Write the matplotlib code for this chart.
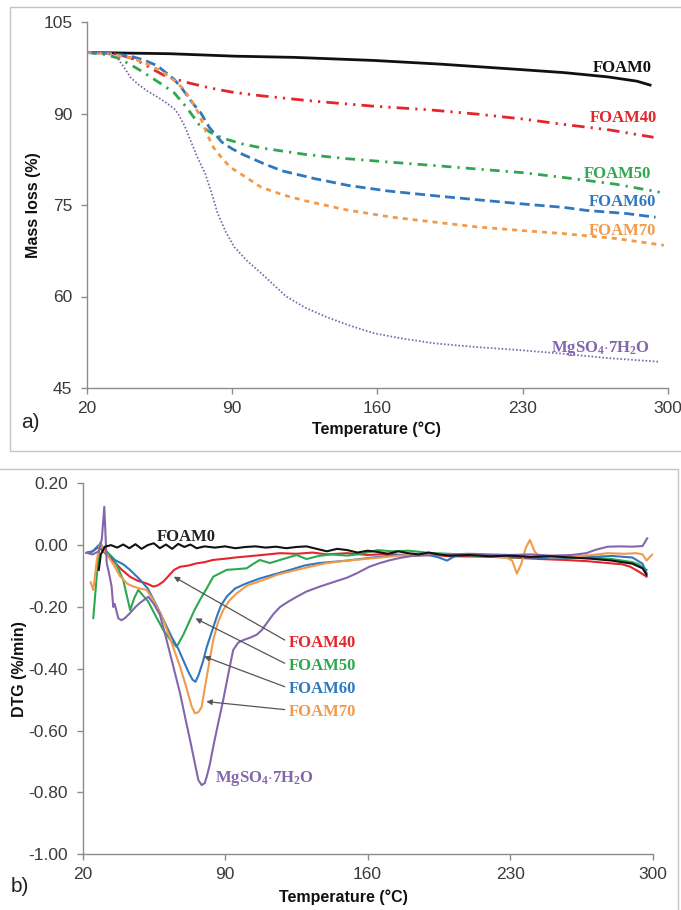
import matplotlib
matplotlib.use('Agg')
import matplotlib.pyplot as plt
from matplotlib.patches import Rectangle

plt.rcParams['font.family'] = ['Liberation Sans', 'DejaVu Sans']
plt.rcParams['axes.unicode_minus'] = False
plt.rcParams['mathtext.fontset'] = 'custom'
plt.rcParams['mathtext.rm'] = 'Liberation Serif'
plt.rcParams['mathtext.bf'] = 'Liberation Serif:bold'

# ---- a) TGA mass loss ----
foam0_T = [20, 40, 60, 91, 120, 158, 190, 229, 250, 271, 285, 292]
foam0_m = [100.0, 99.9, 99.8, 99.4, 99.2, 98.7, 98.1, 97.2, 96.7, 96.0, 95.3, 94.6]

foam40_T = [20, 30, 35, 42, 47, 52, 58, 68, 79, 90, 104, 130, 158, 185, 208, 230, 250, 272, 293]
foam40_m = [100, 99.9, 99.7, 99.0, 98.2, 97.2, 96.1, 95.1, 94.2, 93.5, 92.9, 92.0, 91.2, 90.6, 89.9, 89.1, 88.2, 87.3, 86.1]

foam50_T = [20, 28, 35, 41, 46, 51, 56, 62, 68, 74, 79, 83, 88, 95, 105, 125, 145, 167, 190, 208, 230, 250, 275, 296]
foam50_m = [100, 99.7, 99.1, 98.0, 97.0, 95.9, 94.8, 93.4, 91.0, 88.2, 87.0, 86.3, 85.7, 85.0, 84.3, 83.3, 82.6, 82.0, 81.4, 80.9, 80.3, 79.5, 78.4, 77.1]

foam60_T = [20, 30, 41, 48, 54, 62, 66, 70, 75, 79, 85, 90, 95, 105, 114, 130, 146, 165, 188, 210, 229, 250, 261, 280, 294]
foam60_m = [100, 99.9, 99.4, 98.7, 97.8, 95.6, 94.0, 92.1, 90.0, 87.7, 85.3, 84.2, 83.3, 81.8, 80.6, 79.3, 78.2, 77.3, 76.5, 75.8, 75.2, 74.6, 74.1, 73.6, 73.0]

foam70_T = [20, 30, 41, 48, 56, 61, 66, 70, 74, 78, 81, 85, 89, 95, 104, 115, 125, 145, 167, 190, 208, 230, 250, 275, 298]
foam70_m = [100, 99.8, 99.1, 98.3, 96.9, 95.7, 94.2, 92.3, 89.9, 86.5, 84.4, 82.7, 81.2, 79.9, 77.9, 76.6, 75.7, 74.2, 73.0, 72.1, 71.4, 70.8, 70.3, 69.5, 68.4]

mg_T = [20, 25, 30, 33, 35, 38, 41, 45, 49, 54, 58, 62, 64, 67, 70, 73, 77, 80, 83, 87, 91, 97,
        104, 110, 116, 125, 135, 146, 158, 172, 188, 208, 229, 250, 271, 296]
mg_m = [100, 100, 99.9, 99.4, 98.9, 97.5, 95.9, 94.7, 93.7, 92.7, 91.8, 90.8, 89.9, 88.0, 85.5, 83.0, 80.1, 77.0, 73.6, 70.5, 68.1, 65.9,
        63.8, 61.9, 60.0, 58.2, 56.7, 55.3, 54.0, 53.1, 52.3, 51.7, 51.2, 50.6, 49.9, 49.3]

# ---- b) DTG ----
d0_T = [28, 29, 31, 34, 37, 40, 43, 46, 49, 52, 55, 58, 61, 64, 67, 70, 73, 76, 80, 85, 90, 95, 100, 105, 110, 115, 120, 125,
        130, 135, 140, 145, 150, 155, 160, 165, 170, 175, 180, 185, 190, 195, 200, 210, 220, 230, 240, 250, 260, 270, 280, 290, 295, 297]
d0_v = [-0.08, -0.03, -0.005, 0.0, -0.008, 0.002, -0.01, 0.003, -0.012, 0.0, 0.006, -0.01, 0.002, -0.012, 0.004, -0.006, 0.002, -0.01,
        -0.004, -0.008, -0.004, -0.01, -0.006, -0.004, -0.008, -0.005, -0.01, -0.006, -0.004, -0.012, -0.02, -0.012, -0.016, -0.024,
        -0.018, -0.022, -0.028, -0.02, -0.026, -0.03, -0.024, -0.03, -0.034, -0.032, -0.036, -0.034, -0.038, -0.036, -0.04, -0.044,
        -0.05, -0.06, -0.075, -0.096]

d40_T = [22, 25, 28, 31, 35, 39, 43.3, 47, 51.5, 54.8, 57, 59.7, 61.5, 63, 65, 67.9, 72, 76, 80, 84, 90, 95, 100, 108, 117, 125,
         133, 140, 150, 160, 170, 180, 190, 200, 214, 230, 245, 257, 268, 278, 285, 289, 293, 297]
d40_v = [-0.025, -0.02, -0.005, -0.025, -0.05, -0.078, -0.102, -0.115, -0.124, -0.134, -0.13, -0.118, -0.105, -0.094, -0.08, -0.07,
         -0.066, -0.059, -0.055, -0.048, -0.044, -0.04, -0.037, -0.032, -0.026, -0.028, -0.024, -0.03, -0.026, -0.032, -0.028,
         -0.034, -0.03, -0.036, -0.037, -0.04, -0.045, -0.048, -0.052, -0.058, -0.062, -0.07, -0.085, -0.102]

d50_T = [25.3, 27, 28.6, 31, 35.1, 37.5, 40, 43.4, 45.5, 47.4, 50, 52.3, 56, 59.7, 63, 66.2, 69.5, 72.8, 75, 77.7, 81, 84.2, 90.8,
         95, 100.6, 104, 107.1, 112, 117, 121, 125.2, 130, 136, 142, 150, 157, 165, 172, 180, 190, 200, 214, 230, 245, 257, 270, 280,
         290, 293, 297]
d50_v = [-0.236, -0.1, 0.007, -0.015, -0.042, -0.075, -0.113, -0.21, -0.17, -0.145, -0.165, -0.183, -0.23, -0.275, -0.305, -0.329,
         -0.29, -0.242, -0.21, -0.177, -0.14, -0.102, -0.08, -0.078, -0.075, -0.06, -0.048, -0.058, -0.048, -0.04, -0.032, -0.045,
         -0.035, -0.03, -0.034, -0.028, -0.016, -0.02, -0.018, -0.025, -0.028, -0.035, -0.04, -0.038, -0.042, -0.04, -0.045, -0.055,
         -0.062, -0.08]

d60_T = [22, 25, 28, 31, 35, 40, 43.3, 48, 52, 56, 60, 64, 67, 70, 72, 74, 75.5, 77, 79, 81, 84, 86, 88, 91, 95, 100, 107, 115,
         122, 129, 136, 143, 150, 160, 171, 180, 190, 195, 199, 203, 210, 220, 230, 240, 250, 260, 270, 280, 290, 295, 297]
d60_v = [-0.025, -0.02, 0.0, -0.025, -0.045, -0.062, -0.08, -0.11, -0.14, -0.19, -0.245, -0.3, -0.335, -0.38, -0.41, -0.435, -0.442,
         -0.42, -0.38, -0.33, -0.27, -0.23, -0.195, -0.165, -0.14, -0.125, -0.108, -0.093, -0.08, -0.066, -0.058, -0.054, -0.05,
         -0.042, -0.034, -0.03, -0.032, -0.04, -0.05, -0.035, -0.03, -0.034, -0.038, -0.04, -0.042, -0.04, -0.038, -0.035, -0.04,
         -0.06, -0.09]

d70_T = [24, 25.3, 27, 28.6, 31, 35, 38.4, 42, 45, 48, 51.5, 55, 59.7, 64, 67.9, 71, 73.5, 75.2, 77, 78.5, 81, 84.2, 86.5, 89.1,
         92, 95.7, 101, 108.8, 116, 125.2, 133, 140, 150, 160, 171, 180, 190, 200, 210, 220, 228, 231, 233.3, 235.5, 237.6, 239.7,
         242, 244, 250, 260, 270, 278, 286, 292, 295, 297, 299, 300]
d70_v = [-0.12, -0.145, -0.05, 0.005, -0.02, -0.06, -0.1, -0.125, -0.134, -0.14, -0.145, -0.18, -0.242, -0.32, -0.393, -0.46, -0.52,
         -0.544, -0.54, -0.523, -0.426, -0.307, -0.25, -0.21, -0.18, -0.156, -0.13, -0.113, -0.095, -0.08, -0.068, -0.058, -0.05,
         -0.044, -0.037, -0.032, -0.03, -0.03, -0.032, -0.034, -0.04, -0.05, -0.092, -0.06, -0.01, 0.017, -0.02, -0.035, -0.04,
         -0.038, -0.032, -0.026, -0.028, -0.026, -0.03, -0.05, -0.035, -0.03]

dmg_T = [22, 25, 28, 29.5, 30.7, 31.9, 33, 34.3, 35.1, 35.8, 37.6, 39.2, 41, 43.3, 46, 48.2, 50, 52.3, 55, 58, 61.3, 64.5, 67.9,
         70.5, 72.8, 75, 76.9, 78.5, 80, 81, 82.5, 84.2, 86.5, 89.1, 91.5, 94, 96.5, 99, 102, 105.5, 108, 110.4, 113.5, 117, 121,
         125.2, 130, 136.6, 143, 150, 155, 160.8, 166, 171.4, 177, 182, 190, 200, 210, 220, 230, 240, 250, 260, 267.4, 272, 278,
         284, 290, 295, 297.3]
dmg_v = [-0.025, -0.03, -0.02, 0.02, 0.124, -0.058, -0.09, -0.134, -0.2, -0.19, -0.237, -0.243, -0.235, -0.22, -0.2, -0.187,
         -0.178, -0.167, -0.19, -0.225, -0.307, -0.39, -0.479, -0.56, -0.63, -0.7, -0.76, -0.776, -0.77, -0.749, -0.71, -0.652,
         -0.58, -0.501, -0.42, -0.339, -0.315, -0.307, -0.3, -0.29, -0.275, -0.253, -0.225, -0.2, -0.183, -0.167, -0.15, -0.134,
         -0.12, -0.105, -0.09, -0.07, -0.058, -0.048, -0.04, -0.035, -0.033, -0.03, -0.028, -0.03, -0.032, -0.03, -0.034, -0.032,
         -0.026, -0.015, -0.005, -0.004, -0.005, -0.003, 0.022]

x_ticks = [20, 90, 160, 230, 300]
mass_ticks = [45, 60, 75, 90, 105]
dtg_ticks = [0.20, 0.00, -0.20, -0.40, -0.60, -0.80, -1.00]

# arrow labels in panel b: (text, tip T, tip DTG, label DTG)
arrow_labels = [('FOAM40', 64.8, -0.102, -0.315),
                ('FOAM50', 75.5, -0.237, -0.390),
                ('FOAM60', 79.7, -0.360, -0.466),
                ('FOAM70', 80.8, -0.506, -0.540)]

BLACK = '#111111'
RED = '#e3262b'
GREEN = '#2ea84f'
BLUE = '#2f78c0'
ORANGE = '#f29a4c'
PURPLE = '#8466ad'
SPINE = '#8c8c8c'
TICKC = '#3a3a3a'
MG_LABEL = r'$\mathbf{MgSO_4{\cdot}7H_2O}$'


def style_axes(ax):
    for s in ['top', 'right']:
        ax.spines[s].set_visible(False)
    for s in ['left', 'bottom']:
        ax.spines[s].set_color(SPINE)
        ax.spines[s].set_linewidth(1.0)
    ax.tick_params(direction='out', length=4.5, width=1.0, color=SPINE,
                   labelsize=12.5, labelcolor=TICKC)
    ax.tick_params(axis='y', pad=6)
    ax.tick_params(axis='x', pad=5)
    ax.set_xlim(20, 300)
    ax.set_xticks(x_ticks)


fig = plt.figure(figsize=(6.81, 9.10), dpi=100)

# panel frames
fig.add_artist(Rectangle((10 / 681, 1 - 451 / 910), 1.0, 444 / 910, transform=fig.transFigure,
                         fill=False, edgecolor='#c4c4c4', lw=1.0))
fig.add_artist(Rectangle((-0.01, -0.05), 678 / 681 + 0.01, 1 - 469 / 910 + 0.05, transform=fig.transFigure,
                         fill=False, edgecolor='#c4c4c4', lw=1.0))

# ---------- panel a ----------
ax1 = fig.add_axes([87 / 681, 1 - 388 / 910, 581 / 681, 366 / 910])
style_axes(ax1)
ax1.set_ylim(45, 105)
ax1.set_yticks(mass_ticks)

ax1.plot(foam0_T, foam0_m, color=BLACK, lw=2.0, solid_capstyle='butt')
ax1.plot(foam40_T, foam40_m, color=RED, lw=2.0, dashes=(4.5, 2.2, 0.8, 2.2, 0.8, 2.2))
ax1.plot(foam50_T, foam50_m, color=GREEN, lw=2.0, dashes=(3.5, 2.2, 0.8, 2.2))
ax1.plot(foam60_T, foam60_m, color=BLUE, lw=2.0, dashes=(3.6, 1.8))
ax1.plot(foam70_T, foam70_m, color=ORANGE, lw=2.0, dashes=(1.8, 1.8))
ax1.plot(mg_T, mg_m, color=PURPLE, lw=1.3, dashes=(0.9, 1.1))

serif = ['Liberation Serif', 'DejaVu Serif']
ax1.text(292, 97.5, 'FOAM0', color=BLACK, family=serif, weight='bold', fontsize=12, ha='right', va='center')
ax1.text(294.5, 89.3, 'FOAM40', color=RED, family=serif, weight='bold', fontsize=12, ha='right', va='center')
ax1.text(292, 80.1, 'FOAM50', color=GREEN, family=serif, weight='bold', fontsize=12, ha='right', va='center')
ax1.text(294.5, 75.5, 'FOAM60', color=BLUE, family=serif, weight='bold', fontsize=12, ha='right', va='center')
ax1.text(294.5, 70.8, 'FOAM70', color=ORANGE, family=serif, weight='bold', fontsize=12, ha='right', va='center')
ax1.text(291.5, 51.5, MG_LABEL, color=PURPLE, fontsize=12, ha='right', va='center')

ax1.set_ylabel('Mass loss (%)', fontsize=11.5, weight='bold', color='#111111')
ax1.yaxis.set_label_coords(-0.079, 0.5)
ax1.set_xlabel('Temperature (°C)', fontsize=11.5, weight='bold', color='#111111')
ax1.xaxis.set_label_coords(0.499, -0.091)
fig.text(30 / 681, 1 - 423 / 910, 'a)', fontsize=15, ha='center', va='center', color='#222222')

# ---------- panel b ----------
ax2 = fig.add_axes([82.5 / 681, 1 - 854.3 / 910, 570.2 / 681, 371 / 910])
style_axes(ax2)
ax2.set_ylim(-1.0, 0.2)
ax2.set_yticks(dtg_ticks)
ax2.set_yticklabels(['%.2f' % v for v in dtg_ticks])

lw_b = 1.5
ax2.plot(d40_T, d40_v, color=RED, lw=lw_b)
ax2.plot(d50_T, d50_v, color=GREEN, lw=lw_b)
ax2.plot(d60_T, d60_v, color=BLUE, lw=lw_b)
ax2.plot(d70_T, d70_v, color=ORANGE, lw=lw_b)
ax2.plot(dmg_T, dmg_v, color=PURPLE, lw=lw_b)
ax2.plot(d0_T, d0_v, color=BLACK, lw=lw_b)

ax2.text(56.3, 0.025, 'FOAM0', color='#222222', family=serif, weight='bold', fontsize=12, ha='left', va='center')
label_colors = [RED, GREEN, BLUE, ORANGE]
for (name, tx, ty, ly), c in zip(arrow_labels, label_colors):
    ax2.text(121.3, ly, name, color=c, family=serif, weight='bold', fontsize=12, ha='left', va='center')
    ax2.annotate('', xy=(tx, ty), xytext=(119.3, ly + 0.008),
                 arrowprops=dict(arrowstyle='-|>', color='#555555', lw=0.9, mutation_scale=8,
                                 shrinkA=0, shrinkB=0))
ax2.text(85, -0.754, MG_LABEL, color=PURPLE, fontsize=12, ha='left', va='center')

ax2.set_ylabel('DTG (%/min)', fontsize=11.5, weight='bold', color='#111111')
ax2.yaxis.set_label_coords(-0.097, 0.5)
ax2.set_xlabel('Temperature (°C)', fontsize=11.5, weight='bold', color='#111111')
ax2.xaxis.set_label_coords(0.457, -0.095)
fig.text(20 / 681, 1 - 887 / 910, 'b)', fontsize=15, ha='center', va='center', color='#222222')

fig.savefig('out.png', dpi=100)
